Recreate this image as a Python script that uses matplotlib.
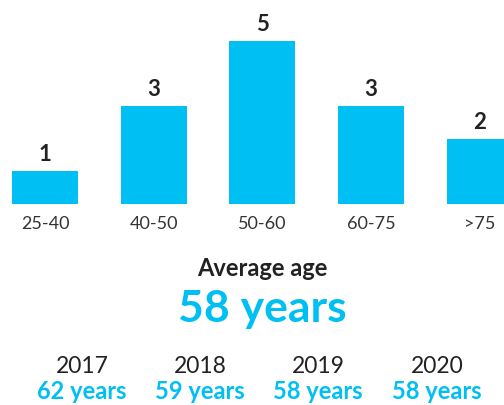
import matplotlib
matplotlib.use("Agg")
import matplotlib.pyplot as plt

plt.rcParams["font.family"] = ["Lato", "DejaVu Sans"]

# Age distribution
age_groups = ["25-40", "40-50", "50-60", "60-75", ">75"]
counts = [1, 3, 5, 3, 2]

# Average age summary
average_age = 58
years = ["2017", "2018", "2019", "2020"]
yearly_average = [62, 59, 58, 58]

CYAN = "#00BFF2"
DARK = "#222222"
GREY = "#333333"

W, H = 504, 405
fig = plt.figure(figsize=(W / 100, H / 100), dpi=100)
fig.patch.set_facecolor("white")

# Bar axes spanning full width, baseline at 204 px from top
base_px = 204
unit_px = 32.6
step_px = 108.7
first_px = 45
ax = fig.add_axes([0, (H - base_px) / H, 1, base_px / H])
ax.set_xlim(-first_px / step_px, (W - first_px) / step_px)
ax.set_ylim(0, base_px / unit_px)
ax.axis("off")

x = list(range(len(age_groups)))
ax.bar(x, counts, width=66 / step_px, color=CYAN, linewidth=0)

for xi, c, lab in zip(x, counts, age_groups):
    ax.annotate(str(c), (xi, c), xytext=(0, 10), textcoords="offset pixels",
                ha="center", va="baseline", fontsize=16, fontweight="bold",
                color=DARK, annotation_clip=False)
    ax.annotate(lab, (xi, 0), xytext=(0, -25), textcoords="offset pixels",
                ha="center", va="baseline", fontsize=13, color=GREY,
                annotation_clip=False)


def ftext(px, py, s, **kw):
    fig.text(px / W, 1 - py / H, s, ha="center", va="baseline", **kw)


ftext(262, 276, "Average age", fontsize=17, fontweight="bold", color=DARK)
ftext(262, 322, f"{average_age} years", fontsize=32, fontweight="bold", color=CYAN)

col_x = [82, 200, 318, 437]
for cx, yr, val in zip(col_x, years, yearly_average):
    ftext(cx, 373, yr, fontsize=16.5, color=DARK)
    ftext(cx, 399, f"{val} years", fontsize=17, fontweight="bold", color=CYAN)

fig.savefig("out.png", dpi=100, facecolor="white")
